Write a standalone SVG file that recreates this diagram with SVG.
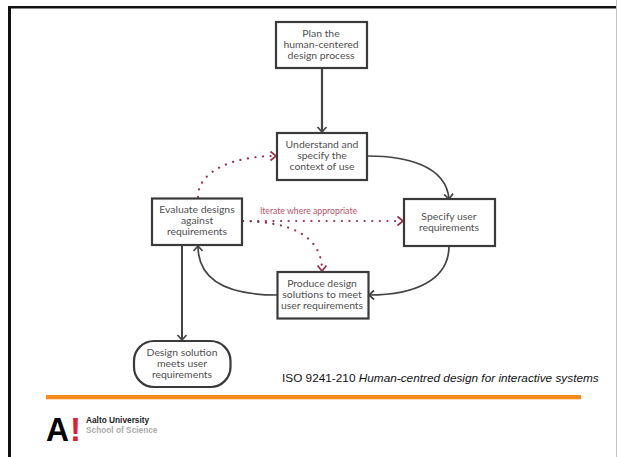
<svg xmlns="http://www.w3.org/2000/svg" width="617" height="457" viewBox="0 0 617 457">
<style>
.box{fill:#fff;stroke:#3a3a3a;stroke-width:2.200}
.lbl{font-family:"Lato","Noto Sans",sans-serif;font-size:10.400px;fill:#505050;text-anchor:middle}
.c{fill:none;stroke:#444;stroke-width:1.700}
.d{fill:none;stroke:#96354a;stroke-width:2.200;stroke-dasharray:0.1 7.500;stroke-linecap:round}
</style>
<defs>
<marker id="a" markerUnits="userSpaceOnUse" markerWidth="12" markerHeight="12" refX="9" refY="6" orient="auto"><path d="M4 1.500L9 6L4 10.500" fill="none" stroke="#444" stroke-width="1.700"/></marker>
<marker id="r" markerUnits="userSpaceOnUse" markerWidth="12" markerHeight="12" refX="9" refY="6" orient="auto"><path d="M3.500 1.500L9 6L3.500 10.500" fill="none" stroke="#96354a" stroke-width="1.800"/></marker>
</defs>
<rect width="617" height="457" fill="#fff"/>
<rect x="8" y="6" width="608" height="2.500" fill="#111"/>
<rect x="8" y="6" width="3" height="451" fill="#111"/>
<rect x="616" y="0" width="1" height="457" fill="#c4c4c4"/>
<g id="connectors">
<path class="c" style="stroke-width:2.200" d="M322 68V132" marker-end="url(#a)"/>
<path class="c" d="M368 156C405 156 446 165 449 199" marker-end="url(#a)"/>
<path class="c" d="M449 246C449 280 415 295 369 295" marker-end="url(#a)"/>
<path class="c" d="M277 295C235 295 198 285 198 246" marker-end="url(#a)"/>
<path class="c" style="stroke-width:2" d="M182 246V340" marker-end="url(#a)"/>
<path class="d" d="M198 197C198 170 235 156 276 156" marker-end="url(#r)"/>
<path class="d" d="M243 221H403" marker-end="url(#r)"/>
<path class="d" d="M243 221C290 222 322 235 322 271" marker-end="url(#r)"/>
</g>
<text x="308.500" y="213.500" style="font-family:'Lato','Noto Sans',sans-serif;font-size:8.700px;fill:#b5566b;text-anchor:middle">Iterate where appropriate</text>
<g id="plan"><rect class="box" x="276" y="22" width="91" height="46"/><text class="lbl" x="321" y="37">Plan the</text><text class="lbl" x="321" y="48">human-centered</text><text class="lbl" x="321" y="59">design process</text></g>
<g id="understand"><rect class="box" x="277" y="133" width="90" height="47"/><text class="lbl" x="322" y="148">Understand and</text><text class="lbl" x="322" y="159">specify the</text><text class="lbl" x="322" y="170">context of use</text></g>
<g id="evaluate"><rect class="box" x="152" y="198.500" width="90" height="46.500"/><text class="lbl" x="197" y="213">Evaluate designs</text><text class="lbl" x="197" y="224">against</text><text class="lbl" x="197" y="235">requirements</text></g>
<g id="specify"><rect class="box" x="404" y="199" width="91" height="47"/><text class="lbl" x="449" y="220">Specify user</text><text class="lbl" x="449" y="231">requirements</text></g>
<g id="produce"><rect class="box" x="277.500" y="272" width="91" height="46.500"/><text class="lbl" x="322" y="287">Produce design</text><text class="lbl" x="322" y="298">solutions to meet</text><text class="lbl" x="322" y="309">user requirements</text></g>
<g id="solution"><rect class="box" x="134" y="341" width="96.500" height="46" rx="20"/><text class="lbl" x="182" y="356">Design solution</text><text class="lbl" x="182" y="367">meets user</text><text class="lbl" x="182" y="378">requirements</text></g>
<text x="282" y="382" style="font-family:'Liberation Sans',Arial,sans-serif;font-size:11.800px;fill:#111">ISO 9241-210 <tspan font-style="italic">Human-centred design for interactive systems</tspan></text>
<rect x="46" y="395" width="535" height="4.300" fill="#f58a1f"/>
<g id="logo">
<text x="46" y="441" style="font-family:'Liberation Sans',Arial,sans-serif;font-size:33.500px;font-weight:bold;fill:#000" textLength="23" lengthAdjust="spacingAndGlyphs">A</text>
<text x="70" y="441" style="font-family:'Liberation Sans',Arial,sans-serif;font-size:33.500px;font-weight:bold;fill:#e0202f" textLength="11" lengthAdjust="spacingAndGlyphs">!</text>
<text x="86" y="423" style="font-family:'Liberation Sans',Arial,sans-serif;font-size:8.300px;font-weight:bold;fill:#222">Aalto University</text>
<text x="86" y="432.500" style="font-family:'Liberation Sans',Arial,sans-serif;font-size:8.300px;font-weight:bold;fill:#aaa">School of Science</text>
</g>
</svg>
